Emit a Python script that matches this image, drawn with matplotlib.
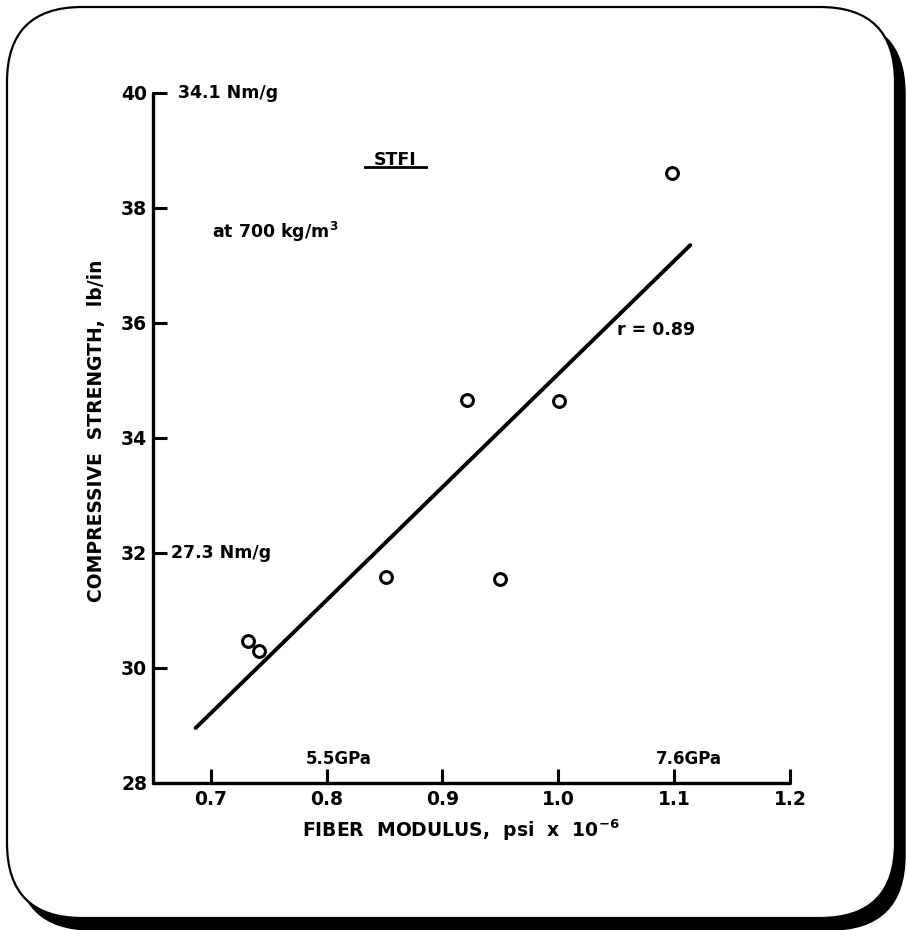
import matplotlib
matplotlib.use("Agg")
import matplotlib.pyplot as plt
from matplotlib.patches import FancyBboxPatch

# ---- data ----
fiber_modulus = [0.732, 0.742, 0.851, 0.921, 0.950, 1.001, 1.098]
compressive_strength = [30.47, 30.29, 31.57, 34.66, 31.54, 34.64, 38.60]
fit_x = [0.687, 1.114]
fit_y = [28.95, 37.35]
x_ticks = [0.7, 0.8, 0.9, 1.0, 1.1, 1.2]
x_tick_labels = ["0.7", "0.8", "0.9", "1.0", "1.1", "1.2"]
y_ticks = [28, 30, 32, 34, 36, 38, 40]
y_tick_labels = ["28", "30", "32", "34", "36", "38", "40"]

W, H = 907, 930
fig = plt.figure(figsize=(W / 100, H / 100), dpi=100)
fig.patch.set_facecolor("white")

# ---- rounded frame with shadow (pixel coordinates) ----
bg = fig.add_axes([0, 0, 1, 1])
bg.set_xlim(0, W)
bg.set_ylim(H, 0)
bg.axis("off")
r = 75
shadow = FancyBboxPatch((7 + 10, 7 + 12), 888, 911, boxstyle=f"round,pad=0,rounding_size={r}",
                        fc="black", ec="black", lw=1)
frame = FancyBboxPatch((7, 7), 888, 911, boxstyle=f"round,pad=0,rounding_size={r}",
                       fc="white", ec="black", lw=1.6)
bg.add_patch(shadow)
bg.add_patch(frame)

# ---- main axes ----
left, right, top, bottom = 152.7, 790.0, 92.7, 782.7
ax = fig.add_axes([left / W, 1 - bottom / H, (right - left) / W, (bottom - top) / H])
ax.patch.set_alpha(0)
ax.set_xlim(0.65, 1.2)
ax.set_ylim(28, 40)
for s in ["top", "right"]:
    ax.spines[s].set_visible(False)
for s in ["left", "bottom"]:
    ax.spines[s].set_linewidth(2.4)
    ax.spines[s].set_capstyle("round")

ax.set_xticks(x_ticks)
ax.set_xticklabels(x_tick_labels)
ax.set_yticks(y_ticks)
ax.set_yticklabels(y_tick_labels)
ax.tick_params(axis="both", direction="in", length=10, width=2.2, labelsize=13.5, pad=4)
ax.tick_params(axis="x", pad=5)
for lab in ax.get_xticklabels() + ax.get_yticklabels():
    lab.set_fontweight("bold")

ax.plot(fit_x, fit_y, color="black", lw=2.8, solid_capstyle="round", zorder=3)
ax.plot(fiber_modulus, compressive_strength, "o", ms=8.5, mfc="white", mec="black",
        mew=2.2, zorder=4, clip_on=False)

tkw = dict(fontweight="bold", color="black")
ax.text(0.672, 40.0, "34.1 Nm/g", fontsize=12.5, ha="left", va="center", **tkw)
ax.text(0.666, 32.0, "27.3 Nm/g", fontsize=12.5, ha="left", va="center", **tkw)
ax.text(0.859, 38.83, "STFI", fontsize=12.5, ha="center", va="center", **tkw)
ax.plot([0.833, 0.886], [38.70, 38.70], color="black", lw=2.0)
ax.text(0.701, 37.58, "at 700 kg/m$^{\\mathbf{3}}$", fontsize=12.5, ha="left", va="center", **tkw)
ax.text(1.051, 35.87, "r = 0.89", fontsize=12.5, ha="left", va="center", **tkw)
ax.text(0.782, 28.42, "5.5GPa", fontsize=12, ha="left", va="center", **tkw)
ax.text(1.084, 28.42, "7.6GPa", fontsize=12, ha="left", va="center", **tkw)

fig.text(461 / W, 1 - 830 / H, "FIBER  MODULUS,  psi  x  10$^{\\mathbf{-6}}$", fontsize=13.5,
         ha="center", va="center", **tkw)
fig.text(97 / W, 1 - 431 / H, "COMPRESSIVE  STRENGTH,  lb/in", fontsize=13.5, rotation=90,
         ha="center", va="center", **tkw)

fig.savefig("out.png", dpi=100, facecolor="white")
